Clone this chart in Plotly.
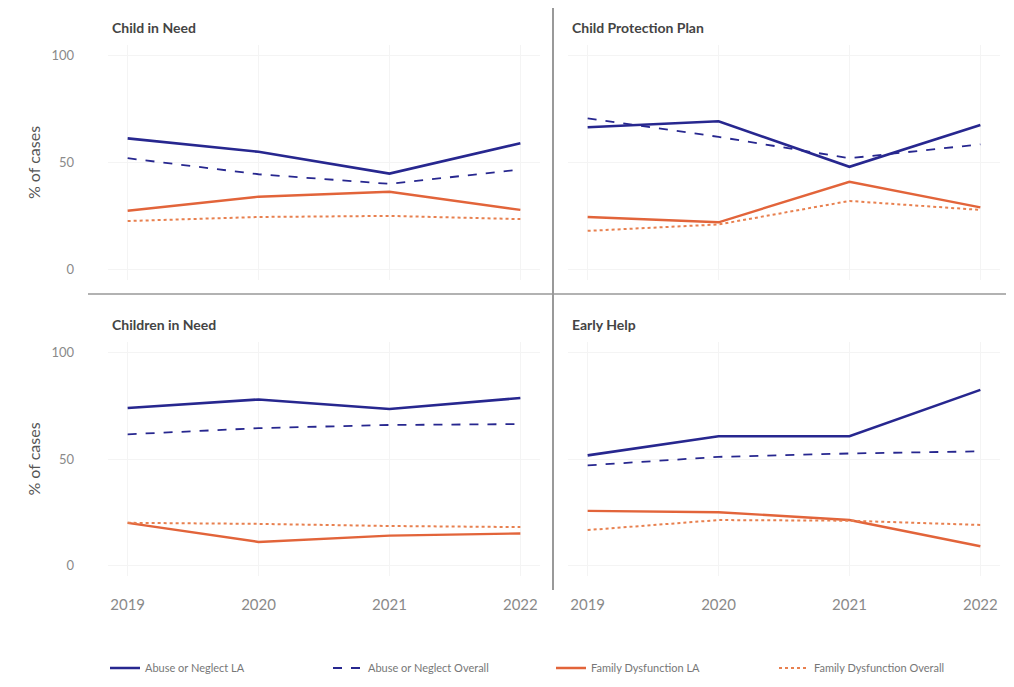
import plotly.graph_objects as go

years = [2019, 2020, 2021, 2022]
panels = ["Child in Need", "Child Protection Plan", "Children in Need", "Early Help"]
series_names = ["Abuse or Neglect LA", "Abuse or Neglect Overall",
                "Family Dysfunction LA", "Family Dysfunction Overall"]

# values per panel, per series (% of cases)
abuse_la = {
    "Child in Need": [61.3, 55.0, 44.8, 59.0],
    "Child Protection Plan": [66.5, 69.3, 48.0, 67.5],
    "Children in Need": [74.0, 78.0, 73.5, 78.7],
    "Early Help": [51.7, 60.7, 60.7, 82.5],
}
abuse_overall = {
    "Child in Need": [52.0, 44.5, 40.0, 46.7],
    "Child Protection Plan": [70.7, 62.0, 52.0, 58.5],
    "Children in Need": [61.6, 64.5, 66.0, 66.4],
    "Early Help": [47.0, 51.0, 52.6, 53.6],
}
family_la = {
    "Child in Need": [27.4, 34.0, 36.3, 27.8],
    "Child Protection Plan": [24.5, 22.0, 41.0, 29.0],
    "Children in Need": [20.0, 11.0, 14.0, 15.0],
    "Early Help": [25.6, 25.0, 21.3, 9.0],
}
family_overall = {
    "Child in Need": [22.6, 24.5, 25.0, 23.5],
    "Child Protection Plan": [18.0, 21.0, 32.0, 27.8],
    "Children in Need": [20.0, 19.5, 18.5, 18.0],
    "Early Help": [16.6, 21.3, 21.0, 19.0],
}

y_ticks = [0, 50, 100]
x_ticks = years

NAVY = "#27278f"
ORANGE = "#e2643a"
ORANGE_LIGHT = "#e8804f"

styles = [
    (abuse_la, dict(color=NAVY, width=2.6, dash="solid")),
    (abuse_overall, dict(color=NAVY, width=1.8, dash="dash")),
    (family_la, dict(color=ORANGE, width=2.4, dash="solid")),
    (family_overall, dict(color=ORANGE_LIGHT, width=2.0, dash="dot")),
]

W, H = 1014, 687
xdoms = [[100 / W, 532 / W], [560 / W, 992 / W]]
ydoms = [[1 - 272 / H, 1 - 37 / H], [1 - 568 / H, 1 - 334 / H]]

fig = go.Figure()
layout_axes = {}
for i, panel in enumerate(panels):
    row, col = divmod(i, 2)
    n = i + 1
    xa = "x" if n == 1 else f"x{n}"
    ya = "y" if n == 1 else f"y{n}"
    for s_idx, (data, line) in enumerate(styles):
        fig.add_trace(go.Scatter(
            x=years, y=data[panel], mode="lines", line=line,
            name=series_names[s_idx], legendgroup=series_names[s_idx],
            showlegend=(i == 0), xaxis=xa, yaxis=ya,
        ))
    xkey = "xaxis" if n == 1 else f"xaxis{n}"
    ykey = "yaxis" if n == 1 else f"yaxis{n}"
    layout_axes[xkey] = dict(
        domain=xdoms[col], anchor=ya, range=[2018.85, 2022.15],
        tickvals=x_ticks, ticktext=[str(t) for t in x_ticks],
        showticklabels=(row == 1), showgrid=True, gridcolor="#f4f4f4",
        zeroline=False, showline=False, ticks="", ticklabelstandoff=18,
        tickfont=dict(family="Lato", size=15, color="#8a8a8a"),
    )
    layout_axes[ykey] = dict(
        domain=ydoms[row], anchor=xa, range=[-5, 105],
        tickvals=y_ticks, showticklabels=(col == 0), showgrid=True,
        gridcolor="#f4f4f4", zeroline=False, showline=False, ticks="",
        ticklabelstandoff=33,
        tickfont=dict(family="Lato", size=13, color="#8a8a8a"),
        title=dict(text="% of cases" if col == 0 else "",
                   font=dict(family="Lato", size=16, color="#555555"),
                   standoff=6),
    )
    fig.add_annotation(
        text=panel, xref="paper", yref="paper",
        x=xdoms[col][0] + 2 / W, y=ydoms[row][1] + 18 / H,
        xanchor="left", yanchor="middle", showarrow=False,
        font=dict(family="Lato", size=14, color="#444444", weight="bold"),
    )

fig.update_layout(**layout_axes)

# panel divider lines
fig.add_shape(type="line", xref="paper", yref="paper",
              x0=545 / W, x1=545 / W, y0=1 - 582 / H, y1=1.0,
              line=dict(color="#777777", width=1.5))
fig.add_shape(type="line", xref="paper", yref="paper",
              x0=80 / W, x1=1.0, y0=1 - 286 / H, y1=1 - 286 / H,
              line=dict(color="#999999", width=1.5))

fig.update_layout(
    width=W, height=H,
    margin=dict(l=0, r=0, t=0, b=0),
    plot_bgcolor="white", paper_bgcolor="white",
    font=dict(family="Lato", color="#666666"),
    legend=dict(orientation="h", x=97 / W, xanchor="left",
                y=1 - 660 / H, yanchor="middle",
                font=dict(family="Lato", size=11, color="#777777"),
                entrywidth=178, entrywidthmode="pixels",
                itemwidth=30),
)

fig.write_html("out.html")
